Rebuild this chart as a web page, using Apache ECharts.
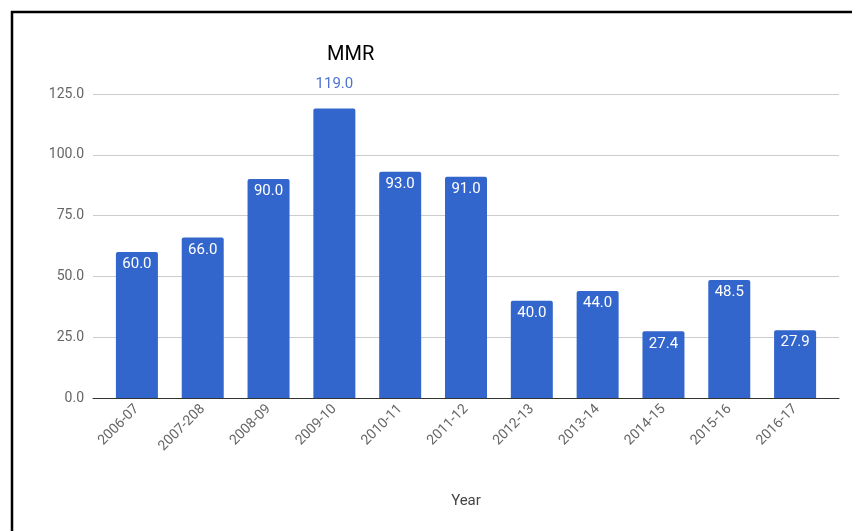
<!DOCTYPE html>
<html>
<head>
<meta charset="utf-8">
<script src="https://cdn.jsdelivr.net/npm/echarts@6/dist/echarts.min.js"></script>
<style>
html,body{margin:0;padding:0;background:#fff;}
#chart{width:852px;height:531px;}
</style>
</head>
<body>
<div id="chart"></div>
<script>
var categories = ['2006-07','2007-208','2008-09','2009-10','2010-11','2011-12','2012-13','2013-14','2014-15','2015-16','2016-17'];
var mmrValues = [60.0, 66.0, 90.0, 119.0, 93.0, 91.0, 40.0, 44.0, 27.4, 48.5, 27.9];
var yTicks = [0, 25, 50, 75, 100, 125];

var maxVal = Math.max.apply(null, mmrValues);
var barData = mmrValues.map(function (v) {
  if (v === maxVal) {
    return { value: v, label: { position: 'top', color: '#4f73cf', distance: 17 } };
  }
  return v;
});

var chart = echarts.init(document.getElementById('chart'), null, { renderer: 'canvas' });
var font = 'Roboto, Arial, sans-serif';
chart.setOption({
  animation: false,
  backgroundColor: '#fff',
  title: {
    text: 'MMR',
    left: 322,
    top: 40,
    textStyle: { fontFamily: font, fontSize: 20, fontWeight: 'normal', color: '#000' }
  },
  graphic: [
    { type: 'line', shape: { x1: 11, y1: 12, x2: 852, y2: 12 }, style: { stroke: '#000', lineWidth: 2.5 }, z: 100 },
    { type: 'line', shape: { x1: 12, y1: 11, x2: 12, y2: 531 }, style: { stroke: '#000', lineWidth: 2.5 }, z: 100 }
  ],
  grid: [
    { left: 93, right: 13, top: 94, bottom: 133 },
    { left: 104, right: 24, top: 94, bottom: 133 }
  ],
  xAxis: [
    {
      type: 'value', gridIndex: 0, min: 0, max: 1,
      axisLine: { show: true, onZero: false, lineStyle: { color: '#333', width: 1 } },
      axisTick: { show: false }, axisLabel: { show: false }, splitLine: { show: false }
    },
    {
      type: 'category', gridIndex: 1, data: categories,
      axisLine: { show: false }, axisTick: { show: false },
      axisLabel: { rotate: 45, margin: 9, fontFamily: font, fontSize: 14, color: '#666' },
      name: 'Year', nameLocation: 'middle', nameGap: 96,
      nameTextStyle: { fontFamily: font, fontSize: 15, color: '#444' }
    }
  ],
  yAxis: [
    {
      type: 'value', gridIndex: 0, min: yTicks[0], max: yTicks[yTicks.length - 1], interval: 25,
      axisLine: { show: false }, axisTick: { show: false },
      axisLabel: { margin: 9, fontFamily: font, fontSize: 14, color: '#666',
        formatter: function (v) { return v.toFixed(1); } },
      splitLine: { lineStyle: { color: '#ccc', width: 1 } }
    },
    {
      type: 'value', gridIndex: 1, min: yTicks[0], max: yTicks[yTicks.length - 1], interval: 25,
      axisLine: { show: false }, axisTick: { show: false }, axisLabel: { show: false },
      splitLine: { show: false }
    }
  ],
  series: [{
    type: 'bar',
    xAxisIndex: 1, yAxisIndex: 1,
    data: barData,
    barWidth: 42,
    itemStyle: { color: '#3366cc', borderRadius: [2, 2, 0, 0] },
    label: {
      show: true, position: 'insideTop', distance: 5,
      fontFamily: font, fontSize: 15, color: '#fff',
      formatter: function (p) { return p.value.toFixed(1); }
    },
    z: 3
  }]
});
</script>
</body>
</html>
